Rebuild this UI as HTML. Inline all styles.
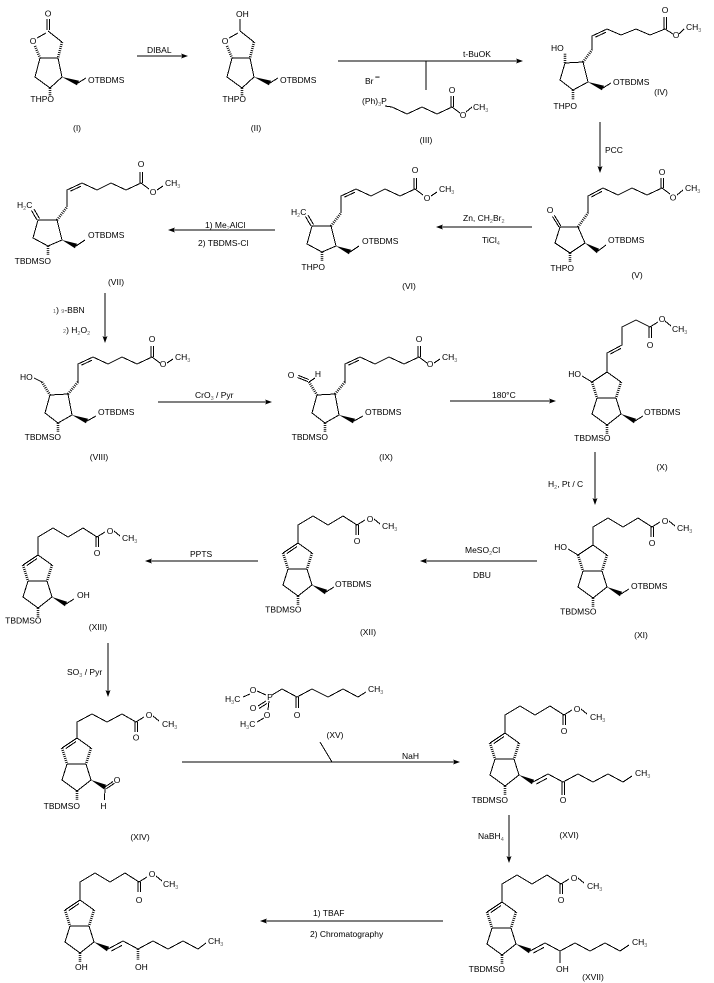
<!DOCTYPE html>
<html><head><meta charset="utf-8"><style>
html,body{margin:0;padding:0;background:#fff}
svg{display:block}
.b{stroke:#000;stroke-width:1;fill:none;shape-rendering:crispEdges}
.h{stroke:#000;stroke-width:2.6;stroke-dasharray:0.9 1.2;fill:none}
polygon{fill:#000}
text{fill:#000;font-family:"Liberation Sans",Arial,sans-serif;font-size:8.5px}
.s{font-size:5.5px;fill:#666}
.m{text-anchor:middle}
.e{text-anchor:end}
</style></head><body>
<svg width="714" height="983" viewBox="0 0 714 983" xmlns="http://www.w3.org/2000/svg">

<!-- ===== (I) ===== -->
<path class="b" d="M46,33L37,38M48,31L62,42M40,58L58,58M40,58L35,77L50,88L62,77L58,58M78,83L86,78M47,30L47,19M49.5,30L49.5,19"/>
<path class="h" d="M35,46L40,58M62,42L58,58M50,88L50,96"/>
<polygon points="62,77 76.9,85.2 79.1,80.8"/>
<text x="48" y="16.5" class="m">O</text>
<text x="33" y="44" class="m">O</text>
<text x="54" y="102" class="e">THPO</text>
<text x="88" y="83">OTBDMS</text>
<text x="77" y="131" class="m">(I)</text>

<!-- arrow I->II -->
<path class="b" d="M137,56L184,56"/>
<polygon points="188,56 181,53.5 182.5,56 181,58.5"/>
<text x="147" y="53">DIBAL</text>

<!-- ===== (II) ===== -->
<g transform="translate(192,0)">
<path class="b" d="M46,33L37,38M48,31L62,42M40,58L58,58M40,58L35,77L50,88L62,77L58,58M78,83L86,78M48,31L48,19"/>
<path class="h" d="M35,46L40,58M62,42L58,58M50,88L50,96"/>
<polygon points="62,77 76.9,85.2 79.1,80.8"/>
</g>
<text x="236" y="17">OH</text>
<text x="225" y="44" class="m">O</text>
<text x="246" y="102" class="e">THPO</text>
<text x="280" y="83">OTBDMS</text>
<text x="256" y="131" class="m">(II)</text>

<!-- arrow II->IV with (III) -->
<path class="b" d="M338,61L519,61M426,61L426,90"/>
<polygon points="523,61 516,58.5 517.5,61 516,63.5"/>
<text x="463" y="57">t-BuOK</text>

<!-- ===== (III) ===== -->
<text x="365" y="84">Br</text><text x="375" y="80" font-weight="bold">−</text>
<text x="362" y="104">(Ph)<tspan class="s" dy="2">3</tspan><tspan dy="-2">P</tspan></text>
<path class="b" d="M385,106L392,107L407,114L422,107L437,114L452,107M451,107L451,96M453.5,107L453.5,96M452,107L460,113M466,112L472,107"/>
<text x="452" y="93" class="m">O</text>
<text x="463" y="118" class="m">O</text>
<text x="473" y="110">CH<tspan class="s" dy="2">3</tspan></text>
<text x="426" y="143" class="m">(III)</text>

<!-- ===== (IV) ===== -->
<path class="b" d="M565,63L583,62L588,82L573,90L560,80Z M603,88L611,83 M592,50L592,36L607,29L621,35L636,29L650,35L665,29 M595.3,37.2L605.8,32.3 M664,29L664,17M666.5,29L666.5,17 M665,29L673,34 M679,34L684,29"/>
<path class="h" d="M565,63L565,53M573,90L573,100M583,62L592,50"/>
<polygon points="588,82 601.9,90.2 604.1,85.8"/>
<text x="551" y="51">HO</text>
<text x="577" y="109" class="e">THPO</text>
<text x="613" y="85">OTBDMS</text>
<text x="665" y="13" class="m">O</text>
<text x="676" y="38" class="m">O</text>
<text x="686" y="30">CH<tspan class="s" dy="2">3</tspan></text>
<text x="661" y="95" class="m">(IV)</text>

<!-- arrow IV->V -->
<path class="b" d="M600,122L600,168"/>
<polygon points="600,173 597.5,166 600,167.5 602.5,166"/>
<text x="605" y="153">PCC</text>

<!-- ===== (V) ===== -->
<path class="b" d="M560,227L578,227L585,243L570,253L555,243Z M559,227L552.5,216.5M560.8,225.8L554.3,215.3 M598,251L606,245 M588,213L588,196L603,188L618,195L632,188L647,195L662,188 M591.4,197L601.9,191.4 M661,188L661,178M663.5,188L663.5,178 M662,188L670,194 M677,195L683,190"/>
<path class="h" d="M570,253L570,262M578,227L588,213"/>
<polygon points="585,243 596.9,253.2 599.1,248.8"/>
<text x="550" y="213" class="m">O</text>
<text x="574" y="271" class="e">THPO</text>
<text x="608" y="243">OTBDMS</text>
<text x="662" y="175" class="m">O</text>
<text x="673" y="200.5" class="m">O</text>
<text x="685" y="191">CH<tspan class="s" dy="2">3</tspan></text>
<text x="637" y="278" class="m">(V)</text>

<!-- arrow V->VI -->
<path class="b" d="M532,227L441,227"/>
<polygon points="436,227 443,224.5 441.5,227 443,229.5"/>
<text x="463" y="221">Zn, CH<tspan class="s" dy="2">2</tspan><tspan dy="-2">Br</tspan><tspan class="s" dy="2">2</tspan></text>
<text x="482" y="243">TiCl<tspan class="s" dy="2">4</tspan></text>

<!-- ===== (VII) ===== -->
<path class="b" d="M37,220L31.5,210.5M39.5,218.5L34,209 M38,220L57,220L62,240L48,246L33,238Z M76,246L85,240 M67,207L67,190L82,183L97,190L111,183L126,190L141,183 M70.3,191.2L80.8,186.3 M140,183L140,172M142.5,183L142.5,172 M141,183L149,189 M157,190L163,186"/>
<path class="h" d="M48,246L48,255M57,220L67,207"/>
<polygon points="62,240 74.9,248.2 77.1,243.8"/>
<text x="17" y="208">H<tspan class="s" dy="2">2</tspan><tspan dy="-2">C</tspan></text>
<text x="51" y="264" class="e">TBDMSO</text>
<text x="88" y="238">OTBDMS</text>
<text x="141" y="167" class="m">O</text>
<text x="153" y="195" class="m">O</text>
<text x="165" y="186">CH<tspan class="s" dy="2">3</tspan></text>
<text x="116" y="285" class="m">(VII)</text>

<!-- ===== (VI) ===== -->
<g transform="translate(274,6)">
<path class="b" d="M37,220L31.5,210.5M39.5,218.5L34,209 M38,220L57,220L62,240L48,246L33,238Z M76,246L85,240 M67,207L67,190L82,183L97,190L111,183L126,190L141,183 M70.3,191.2L80.8,186.3 M140,183L140,172M142.5,183L142.5,172 M141,183L149,189 M157,190L163,186"/>
<path class="h" d="M48,246L48,255M57,220L67,207"/>
<polygon points="62,240 74.9,248.2 77.1,243.8"/>
</g>
<text x="291" y="215">H<tspan class="s" dy="2">2</tspan><tspan dy="-2">C</tspan></text>
<text x="325" y="270" class="e">THPO</text>
<text x="362" y="244">OTBDMS</text>
<text x="415" y="173" class="m">O</text>
<text x="427" y="201" class="m">O</text>
<text x="439" y="192">CH<tspan class="s" dy="2">3</tspan></text>
<text x="409" y="289" class="m">(VI)</text>

<!-- arrow VI->VII -->
<path class="b" d="M275,230L173,230"/>
<polygon points="168,230 175,227.5 173.5,230 175,232.5"/>
<text x="205" y="228">1) Me<tspan class="s" dy="2">2</tspan><tspan dy="-2">AlCl</tspan></text>
<text x="198" y="246">2) TBDMS-Cl</text>

<!-- arrow VII->VIII -->
<path class="b" d="M105,293L105,338"/>
<polygon points="105,343 102.5,336 105,337.5 107.5,336"/>
<text x="53" y="313"><tspan class="s">1</tspan>) <tspan class="s">9</tspan>-BBN</text>
<text x="63" y="333"><tspan class="s">2</tspan>) H<tspan class="s" dy="2">2</tspan><tspan dy="-2">O</tspan><tspan class="s" dy="2">2</tspan></text>

<!-- ===== (VIII) ===== -->
<path class="b" d="M34,378L42,382 M50,395L68,394L72,415L58,423L45,413Z M87,421L96,416 M78,382L78,364L93,357L108,364L122,357L137,364L152,357 M81.3,365.2L91.8,360.3 M151,357L151,346M153.5,357L153.5,346 M152,357L160,363 M167,363L173,359"/>
<path class="h" d="M42,382L50,395M58,423L58,432M68,394L78,382"/>
<polygon points="72,415 85.9,423.2 88.1,418.8"/>
<text x="20" y="380">HO</text>
<text x="61" y="440" class="e">TBDMSO</text>
<text x="98" y="415">OTBDMS</text>
<text x="152" y="342" class="m">O</text>
<text x="163" y="367" class="m">O</text>
<text x="175" y="360">CH<tspan class="s" dy="2">3</tspan></text>
<text x="99" y="460" class="m">(VIII)</text>

<!-- arrow VIII->IX -->
<path class="b" d="M158,402L267,402"/>
<polygon points="272,402 265,399.5 266.5,402 265,404.5"/>
<text x="195" y="398">CrO<tspan class="s" dy="2">3</tspan><tspan dy="-2"> / Pyr</tspan></text>

<!-- ===== (IX) ===== -->
<g transform="translate(267,0)">
<path class="b" d="M50,395L68,394L72,415L58,423L45,413Z M87,421L96,416 M78,382L78,364L93,357L108,364L122,357L137,364L152,357 M81.3,365.2L91.8,360.3 M151,357L151,346M153.5,357L153.5,346 M152,357L160,363 M167,363L173,359"/>
<path class="h" d="M42,382L50,395M58,423L58,432M68,394L78,382"/>
<polygon points="72,415 85.9,423.2 88.1,418.8"/>
</g>
<path class="b" d="M308,381.6L297.5,377.5M308.8,379.5L298.3,375.4M309,382L315,378"/>
<text x="291" y="378" class="m">O</text>
<text x="318" y="377" class="m">H</text>
<text x="328" y="440" class="e">TBDMSO</text>
<text x="365" y="415">OTBDMS</text>
<text x="419" y="342" class="m">O</text>
<text x="430" y="367" class="m">O</text>
<text x="442" y="360">CH<tspan class="s" dy="2">3</tspan></text>
<text x="386" y="460" class="m">(IX)</text>

<!-- arrow IX->X -->
<path class="b" d="M450,401L551,401"/>
<polygon points="556,401 549,398.5 550.5,401 549,403.5"/>
<text x="492" y="398">180°C</text>

<!-- ===== (X) ===== -->
<g transform="translate(607,372)">
<path class="b" d="M0,0L-15,10M0,0L14,10M-10,26L9,26M-10,26L-15,42L0,53L14,42L9,26"/>
<path class="h" d="M-15,10L-10,26M14,10L9,26M0,53L0,62"/>
<polygon points="14,42 26.9,51.2 29.1,46.8"/>
<path class="b" d="M28,49L36,44 M-25,4L-15,10 M0,0L0,-19L15,-27L15,-45L29,-52L43,-45 M3.4,-18L13.9,-23.6 M42,-45L42,-34M44.5,-45L44.5,-34 M43,-45L51,-50 M58,-51L64,-46"/>
<text x="-26" y="5" class="e">HO</text>
<text x="37" y="43">OTBDMS</text>
<text x="3.5" y="69" class="e">TBDMSO</text>
<text x="43" y="-24" class="m">O</text>
<text x="55" y="-50" class="m">O</text>
<text x="65" y="-40">CH<tspan class="s" dy="2">3</tspan></text>
</g>
<text x="662" y="470" class="m">(X)</text>

<!-- arrow X->XI -->
<path class="b" d="M595,452L595,500"/>
<polygon points="595,505 592.5,498 595,499.5 597.5,498"/>
<text x="548" y="487">H<tspan class="s" dy="2">2</tspan><tspan dy="-2">, Pt / C</tspan></text>

<!-- ===== (XI) ===== -->
<g transform="translate(593,545)">
<path class="b" d="M0,0L-15,10M0,0L14,10M-10,26L9,26M-10,26L-15,42L0,53L14,42L9,26"/>
<path class="h" d="M-15,10L-10,26M14,10L9,26M0,53L0,62"/>
<polygon points="14,42 26.9,51.2 29.1,46.8"/>
<path class="b" d="M28,49L36,44 M-25,4L-15,10 M0,0L0,-18L15,-27L30,-18L45,-27L59,-18M58,-18L58,-8M60.5,-18L60.5,-8M59,-18L67,-23M76,-24L82,-19"/>
<text x="-26" y="5" class="e">HO</text>
<text x="38" y="44">OTBDMS</text>
<text x="3.5" y="69.5" class="e">TBDMSO</text>
<text x="59" y="1" class="m">O</text>
<text x="72" y="-21" class="m">O</text>
<text x="84" y="-14">CH<tspan class="s" dy="2">3</tspan></text>
</g>
<text x="641" y="638" class="m">(XI)</text>

<!-- arrow XI->XII -->
<path class="b" d="M537,561L425,561"/>
<polygon points="420,561 427,558.5 425.5,561 427,563.5"/>
<text x="465" y="553">MeSO<tspan class="s" dy="2">2</tspan><tspan dy="-2">Cl</tspan></text>
<text x="473" y="578">DBU</text>

<!-- ===== (XII) ===== -->
<g transform="translate(298,543)">
<path class="b" d="M0,0L-15,10M0,0L14,10M-10,26L9,26M-10,26L-15,42L0,53L14,42L9,26M-1,3.6L-11.3,10.6"/>
<path class="h" d="M-15,10L-10,26M14,10L9,26M0,53L0,62"/>
<polygon points="14,42 26.9,51.2 29.1,46.8"/>
<path class="b" d="M28,49L36,44 M0,0L0,-18L15,-27L30,-18L45,-27L59,-18M58,-18L58,-8M60.5,-18L60.5,-8M59,-18L67,-23M76,-24L82,-19"/>
<text x="37" y="44">OTBDMS</text>
<text x="3.5" y="69.5" class="e">TBDMSO</text>
<text x="59" y="1" class="m">O</text>
<text x="72" y="-21" class="m">O</text>
<text x="84" y="-14">CH<tspan class="s" dy="2">3</tspan></text>
</g>
<text x="368" y="635" class="m">(XII)</text>

<!-- arrow XII->XIII -->
<path class="b" d="M258,561L150,561"/>
<polygon points="145,561 152,558.5 150.5,561 152,563.5"/>
<text x="190" y="557">PPTS</text>

<!-- ===== (XIII) ===== -->
<g transform="translate(38,555)">
<path class="b" d="M0,0L-15,10M0,0L14,10M-10,26L9,26M-10,26L-15,42L0,53L14,42L9,26M-1,3.6L-11.3,10.6"/>
<path class="h" d="M-15,10L-10,26M14,10L9,26M0,53L0,62"/>
<polygon points="14,42 26.9,51.2 29.1,46.8"/>
<path class="b" d="M28,49L36,44 M0,0L0,-18L15,-27L30,-18L45,-27L59,-18M58,-18L58,-8M60.5,-18L60.5,-8M59,-18L67,-23M76,-24L82,-19"/>
<text x="39" y="43">OH</text>
<text x="3.5" y="68.5" class="e">TBDMSO</text>
<text x="59" y="1" class="m">O</text>
<text x="72" y="-21" class="m">O</text>
<text x="84" y="-14">CH<tspan class="s" dy="2">3</tspan></text>
</g>
<text x="98" y="630" class="m">(XIII)</text>

<!-- arrow XIII->XIV -->
<path class="b" d="M108,643L108,692"/>
<polygon points="108,697 105.5,690 108,691.5 110.5,690"/>
<text x="67" y="675">SO<tspan class="s" dy="2">3</tspan><tspan dy="-2"> / Pyr</tspan></text>

<!-- ===== (XIV) ===== -->
<g transform="translate(77,738)">
<path class="b" d="M0,0L-15,10M0,0L14,10M-10,26L9,26M-10,26L-15,42L0,53L14,42L9,26M-1,3.6L-11.3,10.6"/>
<path class="h" d="M-15,10L-10,26M14,10L9,26M0,53L0,62"/>
<polygon points="14,42 26.9,51.2 29.1,46.8"/>
<path class="b" d="M28,49L36,43.5M29.3,50.8L37.3,45.3M28,49L27.5,62 M0,0L0,-16L15,-24L30,-16L45,-24L59,-16M58,-16L58,-6M60.5,-16L60.5,-6M59,-16L67,-21M76,-22L82,-17"/>
<text x="40" y="45" class="m">O</text>
<text x="26.5" y="71" class="m">H</text>
<text x="3" y="71" class="e">TBDMSO</text>
<text x="59" y="2.5" class="m">O</text>
<text x="72" y="-20" class="m">O</text>
<text x="85" y="-11">CH<tspan class="s" dy="2">3</tspan></text>
</g>
<text x="140" y="840" class="m">(XIV)</text>

<!-- ===== (XV) ===== -->
<path class="b" d="M243,697L250,694 M257,691L266,695 M269,701L268,710 M264,718L257,722 M272,695L282,689L297,697L312,689L328,697L343,689L358,697L366,692 M296,697L296,708 M298.5,697L298.5,708 M258,706L266,701 M259,708.5L267,703.5"/>
<text x="225" y="702">H<tspan class="s" dy="2">3</tspan><tspan dy="-2">C</tspan></text>
<text x="253" y="693" class="m">O</text>
<text x="270" y="700" class="m">P</text>
<text x="253" y="711" class="m">O</text>
<text x="267" y="718" class="m">O</text>
<text x="240" y="727">H<tspan class="s" dy="2">3</tspan><tspan dy="-2">C</tspan></text>
<text x="297" y="718" class="m">O</text>
<text x="368" y="692">CH<tspan class="s" dy="2">3</tspan></text>
<text x="335" y="738" class="m">(XV)</text>

<!-- arrow XIV->XVI -->
<path class="b" d="M182,762L455,762M320,742L332,762"/>
<polygon points="460,762 453,759.5 454.5,762 453,764.5"/>
<text x="402" y="759">NaH</text>

<!-- ===== (XVI) ===== -->
<g transform="translate(505,733)">
<path class="b" d="M0,0L-15,10M0,0L14,10M-10,26L9,26M-10,26L-15,42L0,53L14,42L9,26M-1,3.6L-11.3,10.6"/>
<path class="h" d="M-15,10L-10,26M14,10L9,26M0,53L0,62"/>
<polygon points="14,42 26.9,51.2 29.1,46.8"/>
<path class="b" d="M28,49L43,41L58,49L73,41L88,49L103,41L118,49L127,43 M31.4,51L41.9,45.4 M57,49L57,62M59.5,49L59.5,62 M0,0L0,-18L15,-27L30,-18L45,-27L59,-18M58,-18L58,-8M60.5,-18L60.5,-8M59,-18L67,-23M76,-24L82,-19"/>
<text x="58" y="70" class="m">O</text>
<text x="130" y="43">CH<tspan class="s" dy="2">3</tspan></text>
<text x="3" y="70" class="e">TBDMSO</text>
<text x="59" y="1" class="m">O</text>
<text x="72" y="-21" class="m">O</text>
<text x="85" y="-13">CH<tspan class="s" dy="2">3</tspan></text>
</g>
<text x="569" y="838" class="m">(XVI)</text>

<!-- arrow XVI->XVII -->
<path class="b" d="M509,815L509,858"/>
<polygon points="509,863 506.5,856 509,857.5 511.5,856"/>
<text x="478" y="839">NaBH<tspan class="s" dy="2">4</tspan></text>

<!-- ===== (XVII) ===== -->
<g transform="translate(502,902)">
<path class="b" d="M0,0L-15,10M0,0L14,10M-10,26L9,26M-10,26L-15,42L0,53L14,42L9,26M-1,3.6L-11.3,10.6"/>
<path class="h" d="M-15,10L-10,26M14,10L9,26M0,53L0,62"/>
<polygon points="14,42 26.9,51.2 29.1,46.8"/>
<path class="b" d="M28,49L43,41L58,49L73,41L88,49L103,41L118,49L127,43 M31.4,51L41.9,45.4 M58,49L58,61 M0,0L0,-18L15,-27L30,-18L45,-27L59,-18M58,-18L58,-8M60.5,-18L60.5,-8M59,-18L67,-23M76,-24L82,-19"/>
<text x="54" y="70">OH</text>
<text x="130" y="43">CH<tspan class="s" dy="2">3</tspan></text>
<text x="3" y="70" class="e">TBDMSO</text>
<text x="59" y="1" class="m">O</text>
<text x="72" y="-21" class="m">O</text>
<text x="85" y="-13">CH<tspan class="s" dy="2">3</tspan></text>
</g>
<text x="593" y="980" class="m">(XVII)</text>

<!-- arrow XVII->final -->
<path class="b" d="M443,921L265,921"/>
<polygon points="260,921 267,918.5 265.5,921 267,923.5"/>
<text x="313" y="916">1) TBAF</text>
<text x="310" y="937">2) Chromatography</text>

<!-- ===== final product ===== -->
<g transform="translate(80,900)">
<path class="b" d="M0,0L-15,10M0,0L14,10M-10,26L9,26M-10,26L-15,42L0,53L14,42L9,26M-1,3.6L-11.3,10.6"/>
<path class="h" d="M-15,10L-10,26M14,10L9,26M0,53L0,62M58,49L58,60"/>
<polygon points="14,42 26.9,51.2 29.1,46.8"/>
<path class="b" d="M28,49L43,41L58,49L73,41L88,49L103,41L118,49L126,43 M31.4,51L41.9,45.4 M0,0L0,-18L15,-27L30,-18L45,-27L59,-18M58,-18L58,-8M60.5,-18L60.5,-8M59,-18L67,-23M76,-24L82,-19"/>
<text x="55" y="70">OH</text>
<text x="-5" y="70">OH</text>
<text x="128" y="44">CH<tspan class="s" dy="2">3</tspan></text>
<text x="59" y="3" class="m">O</text>
<text x="72" y="-23" class="m">O</text>
<text x="83" y="-13">CH<tspan class="s" dy="2">3</tspan></text>
</g>

</svg>
</body></html>
